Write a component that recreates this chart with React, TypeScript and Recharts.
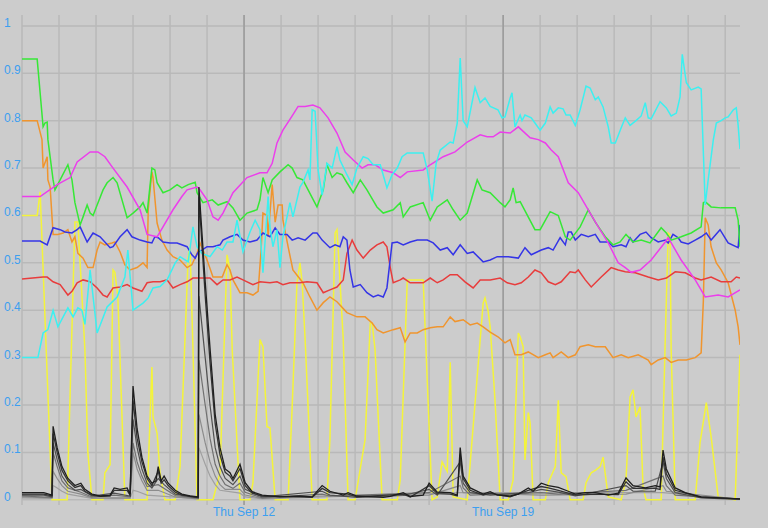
import { LineChart, Line, XAxis, YAxis, CartesianGrid, ReferenceLine } from "recharts";

type Pair = [number, number];

// x = days since Fri Sep 6 00:00, y = value
const dayTicks = [0, 1, 2, 3, 4, 5, 6, 7, 8, 9, 10, 11, 12, 13, 14, 15, 16, 17, 18, 19];
const weekDays = [6, 13];
const weekLabels = ["Thu Sep 12", "Thu Sep 19"];
const valueTicks = [0, 0.1, 0.2, 0.3, 0.4, 0.5, 0.6, 0.7, 0.8, 0.9, 1];

const magenta: Pair[] = [
  [0, 0.64], [0.49, 0.64], [0.95, 0.665], [1.3, 0.68], [1.49, 0.713], [1.84, 0.734], [2.05, 0.734],
  [2.24, 0.724], [2.46, 0.7], [2.84, 0.66], [3.19, 0.612], [3.38, 0.56], [3.65, 0.555], [3.81, 0.576],
  [4.08, 0.612], [4.32, 0.64], [4.46, 0.654], [4.73, 0.66], [4.81, 0.654], [5.0, 0.633], [5.16, 0.597],
  [5.3, 0.59], [5.43, 0.605], [5.7, 0.648], [6.08, 0.68], [6.43, 0.69], [6.62, 0.69], [6.76, 0.71],
  [6.89, 0.753], [7.05, 0.78], [7.3, 0.81], [7.46, 0.83], [7.65, 0.83], [7.86, 0.833], [8.05, 0.827],
  [8.27, 0.806], [8.51, 0.774], [8.73, 0.734], [8.95, 0.717], [9.19, 0.7], [9.35, 0.707], [9.54, 0.707],
  [9.76, 0.696], [10.03, 0.69], [10.22, 0.68], [10.41, 0.692], [10.84, 0.696], [11.03, 0.707],
  [11.38, 0.724], [11.7, 0.734], [12.03, 0.755], [12.38, 0.77], [12.57, 0.766], [12.73, 0.766],
  [12.92, 0.776], [13.19, 0.774], [13.41, 0.787], [13.73, 0.764], [13.95, 0.76], [14.14, 0.753],
  [14.3, 0.738], [14.49, 0.724], [14.76, 0.669], [15.03, 0.648], [15.3, 0.612], [15.57, 0.576],
  [15.84, 0.542], [16.11, 0.5], [16.3, 0.49], [16.46, 0.48], [16.7, 0.485], [17.0, 0.506],
  [17.38, 0.544], [17.46, 0.553], [17.81, 0.506], [18.19, 0.464], [18.46, 0.428], [18.81, 0.432],
  [19.08, 0.428], [19.4, 0.443],
];

const cyan: Pair[] = [
  [0, 0.3], [0.43, 0.3], [0.57, 0.352], [0.7, 0.359], [0.84, 0.4], [0.97, 0.365], [1.24, 0.405],
  [1.38, 0.386], [1.51, 0.405], [1.62, 0.4], [1.7, 0.37], [1.84, 0.485], [2.03, 0.352], [2.3, 0.407],
  [2.57, 0.428], [2.78, 0.47], [2.86, 0.527], [3.0, 0.4], [3.27, 0.415], [3.41, 0.426], [3.54, 0.447],
  [3.73, 0.45], [3.92, 0.464], [4.14, 0.5], [4.27, 0.513], [4.49, 0.502], [4.62, 0.576], [4.73, 0.534],
  [4.86, 0.52], [5.08, 0.513], [5.27, 0.534], [5.41, 0.527], [5.54, 0.544], [5.7, 0.544], [5.81, 0.59],
  [5.97, 0.523], [6.16, 0.565], [6.3, 0.59], [6.43, 0.57], [6.51, 0.479], [6.65, 0.64], [6.7, 0.576],
  [6.78, 0.534], [6.89, 0.57], [6.97, 0.49], [7.05, 0.555], [7.24, 0.627], [7.32, 0.597], [7.51, 0.66],
  [7.59, 0.67], [7.73, 0.696], [7.78, 0.675], [7.84, 0.823], [7.92, 0.82], [8.0, 0.696], [8.11, 0.643],
  [8.24, 0.71], [8.38, 0.7], [8.51, 0.745], [8.59, 0.717], [8.78, 0.686], [8.92, 0.665], [9.05, 0.7],
  [9.22, 0.724], [9.35, 0.72], [9.49, 0.707], [9.68, 0.707], [9.86, 0.658], [10.0, 0.686], [10.14, 0.7],
  [10.27, 0.724], [10.41, 0.732], [10.84, 0.732], [10.95, 0.696], [11.08, 0.63], [11.19, 0.71],
  [11.3, 0.738], [11.57, 0.755], [11.65, 0.753], [11.76, 0.795], [11.84, 0.932], [11.92, 0.8],
  [12.03, 0.787], [12.24, 0.87], [12.38, 0.838], [12.51, 0.848], [12.65, 0.83], [12.86, 0.823],
  [12.97, 0.806], [13.05, 0.808], [13.19, 0.848], [13.24, 0.859], [13.32, 0.787], [13.46, 0.812],
  [13.51, 0.8], [13.59, 0.812], [13.76, 0.806], [13.86, 0.795], [14.0, 0.78], [14.14, 0.795],
  [14.27, 0.829], [14.35, 0.816], [14.49, 0.827], [14.62, 0.825], [14.7, 0.812], [14.81, 0.812],
  [14.95, 0.79], [15.08, 0.823], [15.24, 0.873], [15.35, 0.869], [15.49, 0.844], [15.57, 0.85],
  [15.7, 0.829], [15.84, 0.787], [15.92, 0.753], [16.03, 0.753], [16.19, 0.785], [16.3, 0.806],
  [16.43, 0.79], [16.59, 0.8], [16.73, 0.81], [16.84, 0.838], [16.92, 0.806], [17.0, 0.804],
  [17.24, 0.84], [17.41, 0.827], [17.54, 0.81], [17.68, 0.816], [17.78, 0.85], [17.84, 0.94],
  [17.95, 0.88], [18.08, 0.865], [18.27, 0.871], [18.35, 0.867], [18.46, 0.622], [18.54, 0.675],
  [18.68, 0.76], [18.76, 0.795], [18.89, 0.8], [19.0, 0.806], [19.08, 0.808], [19.22, 0.823],
  [19.3, 0.827], [19.35, 0.79], [19.4, 0.74],
];

const green: Pair[] = [
  [0, 0.93], [0.41, 0.93], [0.57, 0.787], [0.62, 0.795], [0.68, 0.797], [0.7, 0.76], [0.84, 0.675],
  [0.89, 0.654], [1.03, 0.675], [1.24, 0.707], [1.35, 0.675], [1.43, 0.627], [1.57, 0.58], [1.65, 0.597],
  [1.76, 0.622], [1.84, 0.605], [1.92, 0.6], [2.03, 0.622], [2.19, 0.654], [2.3, 0.669], [2.46, 0.68],
  [2.57, 0.669], [2.84, 0.595], [3.0, 0.605], [3.19, 0.618], [3.27, 0.627], [3.38, 0.605], [3.51, 0.7],
  [3.59, 0.696], [3.65, 0.669], [3.81, 0.648], [4.0, 0.654], [4.19, 0.665], [4.32, 0.658], [4.49, 0.665],
  [4.68, 0.67], [4.73, 0.648], [4.89, 0.627], [5.14, 0.633], [5.3, 0.622], [5.54, 0.629], [5.7, 0.616],
  [5.89, 0.59], [6.08, 0.605], [6.35, 0.612], [6.43, 0.633], [6.51, 0.68], [6.65, 0.648], [6.76, 0.675],
  [6.97, 0.692], [7.19, 0.707], [7.3, 0.7], [7.43, 0.68], [7.59, 0.675], [7.73, 0.654], [7.97, 0.618],
  [8.14, 0.654], [8.24, 0.707], [8.38, 0.68], [8.51, 0.69], [8.65, 0.686], [8.78, 0.669], [8.95, 0.648],
  [9.14, 0.675], [9.32, 0.654], [9.59, 0.618], [9.76, 0.605], [10.03, 0.612], [10.22, 0.627],
  [10.3, 0.597], [10.49, 0.618], [10.84, 0.627], [11.03, 0.59], [11.22, 0.618], [11.49, 0.633],
  [11.65, 0.612], [11.84, 0.59], [12.03, 0.605], [12.3, 0.675], [12.43, 0.654], [12.65, 0.648],
  [12.92, 0.627], [13.05, 0.618], [13.19, 0.633], [13.27, 0.658], [13.35, 0.627], [13.46, 0.629],
  [13.86, 0.57], [14.0, 0.57], [14.27, 0.608], [14.49, 0.6], [14.68, 0.555], [14.81, 0.548],
  [15.08, 0.576], [15.3, 0.612], [15.49, 0.586], [15.76, 0.555], [15.97, 0.538], [16.16, 0.544],
  [16.32, 0.56], [16.51, 0.544], [16.73, 0.548], [16.97, 0.542], [17.27, 0.574], [17.41, 0.563],
  [17.54, 0.548], [17.81, 0.555], [18.08, 0.563], [18.35, 0.576], [18.41, 0.627], [18.46, 0.629],
  [18.62, 0.618], [18.89, 0.616], [19.27, 0.616], [19.35, 0.59], [19.4, 0.534],
];

const orange: Pair[] = [
  [0, 0.8], [0.41, 0.8], [0.54, 0.76], [0.57, 0.7], [0.68, 0.724], [0.7, 0.675], [0.76, 0.66],
  [0.84, 0.56], [0.97, 0.56], [1.11, 0.563], [1.24, 0.57], [1.35, 0.544], [1.43, 0.555], [1.51, 0.52],
  [1.65, 0.51], [1.78, 0.49], [1.92, 0.49], [2.03, 0.527], [2.11, 0.544], [2.24, 0.538], [2.43, 0.542],
  [2.51, 0.544], [2.65, 0.523], [2.78, 0.496], [2.92, 0.485], [3.11, 0.49], [3.27, 0.5], [3.38, 0.49],
  [3.41, 0.612], [3.51, 0.692], [3.54, 0.68], [3.65, 0.584], [3.78, 0.548], [3.92, 0.527], [4.08, 0.513],
  [4.27, 0.506], [4.46, 0.49], [4.59, 0.496], [4.73, 0.52], [4.81, 0.542], [5.0, 0.506], [5.16, 0.47],
  [5.41, 0.47], [5.54, 0.496], [5.62, 0.485], [5.7, 0.464], [5.89, 0.437], [6.08, 0.437], [6.24, 0.432],
  [6.38, 0.44], [6.46, 0.527], [6.51, 0.605], [6.62, 0.6], [6.65, 0.555], [6.76, 0.665], [6.84, 0.586],
  [6.92, 0.622], [7.03, 0.622], [7.05, 0.59], [7.19, 0.534], [7.32, 0.485], [7.59, 0.458], [7.78, 0.428],
  [7.97, 0.4], [8.14, 0.416], [8.32, 0.428], [8.51, 0.418], [8.78, 0.395], [9.05, 0.386], [9.27, 0.386],
  [9.46, 0.373], [9.59, 0.359], [9.76, 0.352], [10.03, 0.359], [10.22, 0.363], [10.35, 0.333],
  [10.49, 0.352], [10.68, 0.352], [10.84, 0.359], [11.03, 0.363], [11.22, 0.365], [11.38, 0.365],
  [11.57, 0.386], [11.7, 0.376], [11.92, 0.38], [12.11, 0.369], [12.3, 0.373], [12.46, 0.365],
  [12.65, 0.354], [12.86, 0.344], [13.05, 0.331], [13.19, 0.338], [13.32, 0.306], [13.49, 0.306],
  [13.68, 0.312], [13.95, 0.3], [14.14, 0.306], [14.27, 0.31], [14.35, 0.3], [14.57, 0.312],
  [14.76, 0.3], [14.95, 0.306], [15.08, 0.323], [15.3, 0.327], [15.49, 0.323], [15.76, 0.323],
  [15.97, 0.3], [16.19, 0.306], [16.38, 0.3], [16.65, 0.306], [16.92, 0.295], [17.0, 0.285],
  [17.19, 0.295], [17.38, 0.3], [17.54, 0.29], [17.73, 0.295], [17.95, 0.295], [18.19, 0.3],
  [18.35, 0.31], [18.41, 0.42], [18.46, 0.595], [18.54, 0.58], [18.62, 0.534], [18.76, 0.5],
  [18.89, 0.485], [19.08, 0.458], [19.27, 0.4], [19.35, 0.365], [19.4, 0.327],
];

const blue: Pair[] = [
  [0, 0.546], [0.49, 0.546], [0.68, 0.538], [0.84, 0.574], [1.03, 0.57], [1.16, 0.565], [1.35, 0.563],
  [1.49, 0.57], [1.57, 0.576], [1.76, 0.544], [1.92, 0.563], [2.11, 0.555], [2.38, 0.532], [2.46, 0.534],
  [2.65, 0.555], [2.84, 0.57], [2.97, 0.555], [3.19, 0.548], [3.38, 0.544], [3.51, 0.542], [3.59, 0.555],
  [3.68, 0.553], [3.81, 0.544], [4.0, 0.542], [4.19, 0.542], [4.46, 0.534], [4.59, 0.517], [4.68, 0.51],
  [4.76, 0.523], [4.86, 0.527], [5.0, 0.534], [5.16, 0.534], [5.35, 0.538], [5.43, 0.548], [5.62, 0.555],
  [5.81, 0.56], [5.97, 0.548], [6.16, 0.544], [6.35, 0.548], [6.51, 0.563], [6.7, 0.555], [6.84, 0.574],
  [6.97, 0.56], [7.16, 0.56], [7.3, 0.548], [7.46, 0.553], [7.65, 0.548], [7.86, 0.563], [7.97, 0.563],
  [8.11, 0.548], [8.32, 0.532], [8.46, 0.538], [8.59, 0.534], [8.68, 0.555], [8.78, 0.548], [8.86, 0.485],
  [8.95, 0.449], [9.14, 0.454], [9.32, 0.437], [9.49, 0.428], [9.62, 0.432], [9.76, 0.428], [9.86, 0.447],
  [10.0, 0.542], [10.14, 0.544], [10.3, 0.538], [10.49, 0.544], [10.68, 0.548], [10.95, 0.548],
  [11.11, 0.542], [11.3, 0.527], [11.49, 0.532], [11.65, 0.517], [11.84, 0.538], [12.03, 0.52],
  [12.19, 0.523], [12.46, 0.502], [12.65, 0.506], [12.84, 0.513], [13.14, 0.513], [13.41, 0.51],
  [13.59, 0.532], [13.76, 0.517], [14.03, 0.527], [14.22, 0.532], [14.35, 0.527], [14.54, 0.553],
  [14.68, 0.538], [14.76, 0.565], [14.84, 0.565], [14.95, 0.548], [15.11, 0.56], [15.3, 0.555],
  [15.49, 0.56], [15.62, 0.544], [15.84, 0.544], [15.97, 0.534], [16.19, 0.538], [16.32, 0.534],
  [16.43, 0.553], [16.51, 0.544], [16.7, 0.56], [16.86, 0.565], [17.0, 0.553], [17.19, 0.544],
  [17.38, 0.548], [17.46, 0.542], [17.59, 0.56], [17.73, 0.553], [17.81, 0.544], [18.0, 0.54],
  [18.19, 0.548], [18.35, 0.555], [18.49, 0.563], [18.62, 0.548], [18.86, 0.57], [19.08, 0.542],
  [19.35, 0.532], [19.4, 0.58],
];

const red: Pair[] = [
  [0, 0.466], [0.57, 0.47], [0.68, 0.47], [0.84, 0.46], [1.03, 0.454], [1.24, 0.432], [1.35, 0.44],
  [1.49, 0.458], [1.65, 0.464], [1.84, 0.46], [2.03, 0.447], [2.19, 0.432], [2.3, 0.428], [2.46, 0.447],
  [2.65, 0.449], [2.84, 0.454], [3.0, 0.447], [3.24, 0.44], [3.38, 0.458], [3.54, 0.46], [3.73, 0.46],
  [3.92, 0.464], [4.08, 0.447], [4.27, 0.454], [4.46, 0.46], [4.62, 0.468], [4.89, 0.468], [5.08, 0.468],
  [5.27, 0.454], [5.43, 0.464], [5.62, 0.464], [5.81, 0.47], [5.97, 0.464], [6.24, 0.454], [6.43, 0.46],
  [6.7, 0.458], [6.89, 0.46], [7.05, 0.454], [7.24, 0.458], [7.51, 0.458], [7.7, 0.46], [7.97, 0.458],
  [8.14, 0.437], [8.32, 0.443], [8.51, 0.449], [8.68, 0.464], [8.78, 0.52], [8.92, 0.548], [9.05, 0.527],
  [9.22, 0.51], [9.41, 0.527], [9.59, 0.538], [9.76, 0.544], [9.86, 0.534], [9.95, 0.49], [10.03, 0.458],
  [10.22, 0.464], [10.3, 0.468], [10.49, 0.458], [10.84, 0.458], [11.03, 0.468], [11.22, 0.458],
  [11.38, 0.464], [11.57, 0.475], [11.76, 0.475], [11.97, 0.46], [12.19, 0.447], [12.38, 0.464],
  [12.65, 0.464], [12.92, 0.468], [13.11, 0.458], [13.32, 0.454], [13.49, 0.458], [13.68, 0.47],
  [13.86, 0.485], [14.03, 0.479], [14.22, 0.46], [14.41, 0.454], [14.57, 0.46], [14.81, 0.481],
  [14.95, 0.479], [15.03, 0.485], [15.22, 0.464], [15.38, 0.449], [15.65, 0.47], [15.92, 0.49],
  [16.11, 0.485], [16.3, 0.481], [16.57, 0.479], [16.92, 0.47], [17.19, 0.464], [17.41, 0.468],
  [17.65, 0.481], [17.92, 0.479], [18.19, 0.468], [18.35, 0.464], [18.62, 0.47], [18.89, 0.46],
  [19.16, 0.46], [19.3, 0.47], [19.4, 0.468],
];

const yellow: Pair[] = [
  [0, 0.6], [0.41, 0.6], [0.49, 0.65], [0.81, 0], [1.22, 0], [1.43, 0.586], [1.51, 0.586], [1.57, 0.5],
  [1.7, 0.316], [1.78, 0.1], [1.89, 0], [2.19, 0], [2.24, 0.057], [2.38, 0.074], [2.46, 0.485],
  [2.51, 0.48], [2.59, 0.428], [2.78, 0], [3.38, 0], [3.51, 0.28], [3.54, 0.175], [3.65, 0.14],
  [3.73, 0.057], [3.86, 0], [4.14, 0], [4.27, 0.07], [4.49, 0.513], [4.54, 0.534], [4.62, 0.316],
  [4.73, 0], [5.16, 0], [5.35, 0.057], [5.54, 0.517], [5.62, 0.485], [5.68, 0.316], [5.89, 0],
  [6.16, 0], [6.24, 0.036], [6.43, 0.338], [6.51, 0.323], [6.62, 0.154], [6.7, 0.152], [6.84, 0],
  [7.19, 0], [7.3, 0.196], [7.43, 0.458], [7.51, 0.5], [7.57, 0.458], [7.65, 0.338], [7.84, 0],
  [8.24, 0], [8.32, 0.127], [8.46, 0.563], [8.51, 0.57], [8.54, 0.534], [8.59, 0.464], [8.68, 0.338],
  [8.81, 0], [9.0, 0], [9.27, 0.127], [9.41, 0.373], [9.46, 0.373], [9.54, 0.316], [9.73, 0],
  [10.14, 0], [10.22, 0.042], [10.41, 0.464], [10.84, 0.464], [11.08, 0], [11.22, 0.006], [11.35, 0.08],
  [11.49, 0.06], [11.57, 0.29], [11.65, 0.006], [12.03, 0], [12.38, 0.338], [12.46, 0.415],
  [12.51, 0.426], [12.59, 0.4], [12.65, 0.365], [12.78, 0.21], [12.92, 0], [13.14, 0], [13.27, 0.042],
  [13.41, 0.352], [13.46, 0.344], [13.54, 0.323], [13.59, 0.084], [13.68, 0.184], [13.73, 0.162],
  [13.81, 0], [14.14, 0], [14.22, 0.036], [14.41, 0.07], [14.49, 0.21], [14.57, 0.057], [14.7, 0.049],
  [14.81, 0], [15.16, 0], [15.24, 0.036], [15.38, 0.057], [15.51, 0.063], [15.62, 0.07], [15.7, 0.09],
  [15.84, 0.006], [16.19, 0], [16.32, 0.042], [16.43, 0.217], [16.51, 0.232], [16.59, 0.175],
  [16.7, 0.196], [16.78, 0.027], [16.86, 0], [17.27, 0], [17.38, 0.338], [17.46, 0.563], [17.51, 0.559],
  [17.54, 0.316], [17.65, 0], [18.19, 0], [18.32, 0.12], [18.49, 0.205], [18.62, 0.133], [18.81, 0.006],
  [19.27, 0], [19.4, 0.306],
];

const black1: Pair[] = [
  [0, 0.015], [0.59, 0.015], [0.81, 0.01], [0.84, 0.155], [0.95, 0.11], [1.08, 0.07], [1.24, 0.045],
  [1.43, 0.03], [1.59, 0.035], [1.7, 0.022], [1.89, 0.012], [2.11, 0.008], [2.38, 0.01], [2.49, 0.025],
  [2.65, 0.022], [2.84, 0.025], [2.92, 0.012], [3.0, 0.24], [3.11, 0.15], [3.24, 0.09], [3.38, 0.05],
  [3.51, 0.035], [3.62, 0.04], [3.68, 0.07], [3.76, 0.04], [3.84, 0.05], [3.95, 0.035], [4.14, 0.02],
  [4.32, 0.012], [4.54, 0.008], [4.76, 0.006], [4.78, 0.66], [4.95, 0.46], [5.08, 0.32], [5.22, 0.18],
  [5.35, 0.11], [5.49, 0.065], [5.62, 0.057], [5.7, 0.045], [5.89, 0.075], [6.03, 0.036], [6.22, 0.017],
  [6.49, 0.01], [6.97, 0.006], [7.51, 0.008], [7.84, 0.006], [8.11, 0.03], [8.32, 0.018], [8.68, 0.01],
  [8.81, 0.015], [9.05, 0.008], [9.76, 0.005], [9.95, 0.007], [10.3, 0.015], [10.49, 0.007],
  [10.84, 0.01], [11.0, 0.035], [11.22, 0.016], [11.57, 0.015], [11.76, 0.01], [11.84, 0.11],
  [11.92, 0.05], [12.11, 0.025], [12.46, 0.012], [12.65, 0.017], [12.84, 0.01], [13.19, 0.008],
  [13.41, 0.012], [13.68, 0.025], [13.81, 0.018], [14.03, 0.035], [14.22, 0.03], [14.49, 0.026],
  [14.76, 0.018], [14.95, 0.012], [15.22, 0.015], [15.49, 0.015], [15.84, 0.01], [16.11, 0.014],
  [16.32, 0.046], [16.51, 0.03], [16.84, 0.025], [17.11, 0.03], [17.24, 0.027], [17.32, 0.105],
  [17.41, 0.065], [17.65, 0.025], [17.92, 0.015], [18.35, 0.006], [19.4, 0.002],
];

const black2: Pair[] = [
  [0, 0.012], [0.59, 0.012], [0.81, 0.008], [0.84, 0.14], [0.95, 0.1], [1.08, 0.062], [1.24, 0.04],
  [1.43, 0.026], [1.59, 0.03], [1.7, 0.018], [1.89, 0.01], [2.11, 0.007], [2.38, 0.008], [2.49, 0.02],
  [2.84, 0.02], [2.92, 0.01], [3.0, 0.21], [3.11, 0.13], [3.24, 0.08], [3.38, 0.045], [3.51, 0.03],
  [3.68, 0.06], [3.76, 0.035], [3.84, 0.042], [3.95, 0.03], [4.14, 0.016], [4.32, 0.01], [4.76, 0.005],
  [4.78, 0.64], [4.95, 0.43], [5.08, 0.29], [5.22, 0.16], [5.35, 0.095], [5.49, 0.058], [5.62, 0.05],
  [5.7, 0.04], [5.89, 0.066], [6.03, 0.03], [6.22, 0.014], [6.49, 0.008], [7.51, 0.006], [7.84, 0.005],
  [8.11, 0.024], [8.32, 0.015], [8.81, 0.012], [9.05, 0.006], [10.3, 0.012], [10.49, 0.006],
  [11.0, 0.03], [11.22, 0.013], [11.57, 0.012], [11.76, 0.008], [11.84, 0.095], [11.92, 0.045],
  [12.11, 0.02], [12.46, 0.01], [12.65, 0.014], [13.19, 0.006], [13.68, 0.02], [14.03, 0.028],
  [14.22, 0.025], [14.49, 0.02], [14.95, 0.01], [15.49, 0.012], [16.11, 0.011], [16.32, 0.038],
  [16.51, 0.024], [17.11, 0.024], [17.24, 0.022], [17.32, 0.09], [17.41, 0.055], [17.65, 0.02],
  [18.35, 0.005], [19.4, 0.002],
];

const black3: Pair[] = [
  [0, 0.01], [0.59, 0.01], [0.81, 0.006], [0.84, 0.12], [0.95, 0.085], [1.08, 0.05], [1.24, 0.032],
  [1.43, 0.02], [1.59, 0.022], [1.89, 0.008], [2.49, 0.014], [2.92, 0.008], [3.0, 0.17], [3.11, 0.11],
  [3.24, 0.065], [3.38, 0.035], [3.51, 0.025], [3.68, 0.045], [3.84, 0.032], [4.14, 0.012],
  [4.76, 0.004], [4.78, 0.43], [4.95, 0.3], [5.08, 0.2], [5.22, 0.11], [5.35, 0.07], [5.49, 0.045],
  [5.7, 0.032], [5.89, 0.05], [6.03, 0.022], [6.49, 0.006], [8.11, 0.018], [8.32, 0.01], [9.05, 0.005],
  [10.3, 0.009], [11.0, 0.022], [11.22, 0.01], [11.84, 0.08], [11.92, 0.035], [12.11, 0.015],
  [12.65, 0.01], [13.68, 0.015], [14.03, 0.022], [14.49, 0.016], [14.95, 0.008], [16.32, 0.03],
  [16.51, 0.018], [17.11, 0.018], [17.32, 0.08], [17.41, 0.045], [17.65, 0.015], [18.35, 0.004],
  [19.4, 0.001],
];

const black4: Pair[] = [
  [0, 0.008], [0.81, 0.005], [0.84, 0.1], [0.95, 0.07], [1.08, 0.04], [1.24, 0.025], [1.59, 0.016],
  [1.89, 0.006], [2.49, 0.01], [2.92, 0.006], [3.0, 0.12], [3.11, 0.08], [3.24, 0.05], [3.38, 0.028],
  [3.68, 0.032], [4.14, 0.009], [4.76, 0.003], [4.78, 0.295], [4.95, 0.2], [5.08, 0.13], [5.22, 0.075],
  [5.35, 0.05], [5.49, 0.032], [5.7, 0.024], [5.89, 0.035], [6.03, 0.016], [6.49, 0.004], [8.11, 0.012],
  [8.32, 0.008], [11.0, 0.015], [11.84, 0.05], [11.92, 0.025], [12.11, 0.01], [14.03, 0.015],
  [14.49, 0.012], [16.32, 0.02], [17.32, 0.05], [17.41, 0.03], [17.65, 0.01], [19.4, 0.001],
];

const black5: Pair[] = [
  [0, 0.006], [0.81, 0.004], [0.84, 0.06], [0.95, 0.045], [1.08, 0.03], [1.24, 0.018], [1.59, 0.012],
  [1.89, 0.004], [2.92, 0.004], [3.0, 0.1], [3.11, 0.065], [3.24, 0.04], [3.38, 0.02], [3.68, 0.02],
  [4.14, 0.006], [4.76, 0.002], [4.78, 0.18], [4.95, 0.12], [5.08, 0.08], [5.22, 0.05], [5.35, 0.032],
  [5.49, 0.022], [5.89, 0.022], [6.03, 0.01], [6.49, 0.003], [8.11, 0.008], [11.0, 0.01], [11.84, 0.03],
  [11.92, 0.015], [14.03, 0.01], [16.32, 0.012], [17.32, 0.03], [17.41, 0.018], [19.4, 0.001],
];

const black6: Pair[] = [
  [0, 0.004], [0.81, 0.003], [0.84, 0.03], [0.95, 0.025], [1.08, 0.018], [1.24, 0.012], [1.89, 0.003],
  [2.92, 0.003], [3.0, 0.02], [3.11, 0.018], [3.38, 0.01], [4.76, 0.002], [4.78, 0.11], [4.95, 0.075],
  [5.08, 0.05], [5.22, 0.032], [5.35, 0.02], [5.89, 0.014], [6.03, 0.006], [6.49, 0.002],
  [11.84, 0.015], [17.32, 0.015], [19.4, 0.001],
];

const series = [
  { key: "yellow", color: "#f4f43a", width: 1.5, data: yellow },
  { key: "orange", color: "#f0952e", width: 1.5, data: orange },
  { key: "red", color: "#e83c3c", width: 1.5, data: red },
  { key: "blue", color: "#3434e6", width: 1.5, data: blue },
  { key: "green", color: "#36e836", width: 1.5, data: green },
  { key: "magenta", color: "#ec3eec", width: 1.5, data: magenta },
  { key: "cyan", color: "#3cf0f0", width: 1.5, data: cyan },
  { key: "black6", color: "#a0a0a0", width: 1.2, data: black6 },
  { key: "black5", color: "#8c8c8c", width: 1.2, data: black5 },
  { key: "black4", color: "#707070", width: 1.2, data: black4 },
  { key: "black3", color: "#505050", width: 1.2, data: black3 },
  { key: "black2", color: "#333333", width: 1.3, data: black2 },
  { key: "black1", color: "#1e1e1e", width: 1.3, data: black1 },
];

const FONT = "'Liberation Sans', Arial, sans-serif";
const LABEL = "#3d9ff0";

function ValueTick(props: any) {
  const { y, payload } = props;
  const v = Number(payload.value.toFixed(1));
  return (
    <text x={4} y={y + 1} fill={LABEL} fontSize={12} fontFamily={FONT}>
      {String(v)}
    </text>
  );
}

function DayTick(props: any) {
  const { x, y, payload } = props;
  const i = weekDays.indexOf(payload.value);
  if (i < 0) return null;
  return (
    <text x={x} y={y + 9} fill={LABEL} fontSize={12} fontFamily={FONT} textAnchor="middle">
      {weekLabels[i]}
    </text>
  );
}

export default function App() {
  return (
    <div
      style={{
        position: "absolute",
        left: 0,
        top: 0,
        width: 768,
        height: 528,
        background: "#cccccc",
      }}
    >
      <LineChart width={768} height={528} margin={{ top: 15, right: 28, bottom: 0, left: 0 }}>
        <CartesianGrid
          stroke="#b9b9b9"
          strokeWidth={1.5}
          horizontalValues={valueTicks}
          verticalValues={dayTicks}
        />
        <XAxis
          type="number"
          dataKey="x"
          domain={[0, 19.4]}
          ticks={dayTicks}
          tick={<DayTick />}
          tickLine={false}
          axisLine={false}
          tickSize={0}
          height={23}
          allowDataOverflow
        />
        <YAxis
          type="number"
          domain={[-0.011, 1.023]}
          ticks={valueTicks}
          tick={<ValueTick />}
          tickLine={false}
          axisLine={false}
          tickSize={0}
          width={22}
          allowDataOverflow
        />
        {weekDays.map((d) => (
          <ReferenceLine key={d} x={d} stroke="#9a9a9a" strokeWidth={1.5} />
        ))}
        {series.map((s) => (
          <Line
            key={s.key}
            data={s.data.map(([x, y]) => ({ x, y }))}
            dataKey="y"
            type="linear"
            stroke={s.color}
            strokeWidth={s.width}
            dot={false}
            activeDot={false}
            isAnimationActive={false}
          />
        ))}
      </LineChart>
    </div>
  );
}
